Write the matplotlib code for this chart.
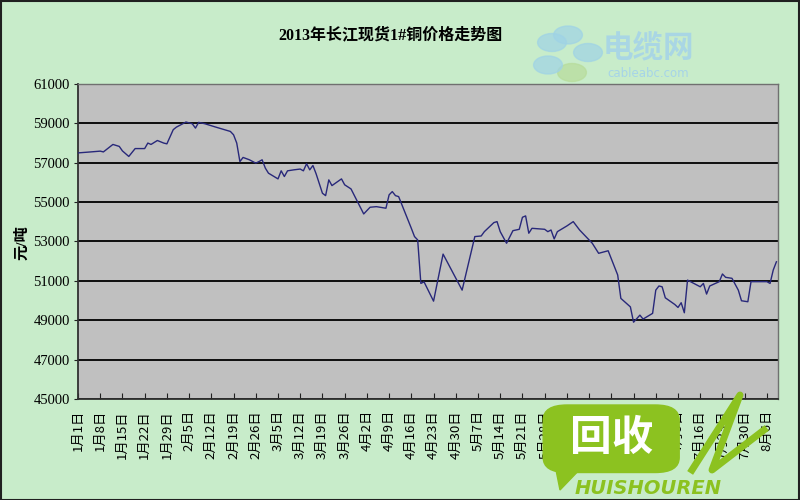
import matplotlib
matplotlib.use("Agg")
import matplotlib.pyplot as plt
from matplotlib.patches import Rectangle, FancyBboxPatch, Circle, Polygon

# day offsets from 1月1日 and price (元/吨)
days = [0, 4, 7, 8, 11, 13, 14, 16, 18, 21, 22, 23, 25, 27, 28, 30, 31, 33, 34, 36,
        37, 38, 40, 43, 48, 49, 50, 51, 52, 54, 56, 57, 58, 59, 60, 63, 64, 65, 66,
        68, 70, 71, 72, 73, 74, 75, 77, 78, 79, 80, 83, 84, 86, 90, 92, 94, 97, 98,
        99, 100, 101, 105, 106, 107, 108, 109, 112, 115, 121, 125, 127, 128, 131, 132,
        133, 135, 137, 139, 140, 141, 142, 143, 147, 148, 149, 150, 151, 154, 156, 158,
        162, 164, 167, 170, 171, 174, 175, 177, 178, 181, 182, 183, 184, 185, 188, 189,
        190, 191, 192, 194, 196, 197, 198, 199, 202, 203, 204, 206, 208, 209, 211, 212,
        214, 217, 218, 219, 220]
price = [57500, 57550, 57590, 57550, 57930, 57830, 57600, 57320, 57720, 57720, 58000,
         57930, 58130, 58000, 57960, 58680, 58810, 58980, 59070, 58980, 58760, 59050,
         58980, 58830, 58590, 58420, 58000, 57060, 57270, 57150, 56980, 57060, 57150,
         56730, 56470, 56180, 56590, 56300, 56590, 56640, 56680, 56590, 56950, 56640,
         56860, 56440, 55450, 55330, 56130, 55840, 56180, 55880, 55670, 54400, 54740,
         54770, 54690, 55370, 55535, 55330, 55280, 53670, 53250, 53080, 50870, 50950,
         49970, 52360, 50530, 53250, 53280, 53500, 53960, 54010, 53500, 52910, 53550,
         53620, 54230, 54300, 53420, 53670, 53620, 53500, 53585, 53130, 53500, 53790,
         54010, 53585, 52910, 52400, 52530, 51300, 50110, 49680, 48900, 49260, 49060,
         49350, 50530, 50740, 50700, 50140, 49800, 49650, 49890, 49380, 51040, 50870,
         50700, 50870, 50330, 50740, 50960, 51350, 51180, 51130, 50530, 49990, 49940,
         50960, 50960, 50960, 50870, 51550, 51970]

tick_labels = ["1月1日", "1月8日", "1月15日", "1月22日", "1月29日", "2月5日", "2月12日",
               "2月19日", "2月26日", "3月5日", "3月12日", "3月19日", "3月26日", "4月2日",
               "4月9日", "4月16日", "4月23日", "4月30日", "5月7日", "5月14日", "5月21日",
               "5月28日", "6月4日", "6月11日", "6月18日", "6月25日", "7月2日", "7月9日",
               "7月16日", "7月23日", "7月30日", "8月6日"]
y_ticks = list(range(45000, 61001, 2000))

bg = "#c8ecca"
serif_cjk = ["Liberation Serif", "Noto Sans CJK SC"]
sans_cjk = ["Noto Sans CJK SC", "DejaVu Sans"]

fig = plt.figure(figsize=(8, 5), dpi=100, facecolor=bg)
ax = fig.add_axes([0.0975, 0.202, 0.875, 0.63])
ax.set_facecolor("#c0c0c0")

ax.plot(days, price, color="#28287a", lw=1.0, zorder=3)

ax.set_xlim(0, 220.5)
ax.set_ylim(45000, 61000)
ax.set_yticks(y_ticks)
ax.set_yticklabels([str(v) for v in y_ticks], family="Liberation Serif", fontsize=10.5)
ax.set_xticks([7 * i for i in range(len(tick_labels))])
ax.set_xticklabels(tick_labels, rotation=90, family=sans_cjk, fontsize=9.5)
ax.tick_params(axis="x", direction="in", length=4, pad=8, color="#202020")
ax.tick_params(axis="y", direction="out", length=3, pad=3, color="#202020")
ax.grid(axis="y", color="black", lw=1.3)
ax.grid(axis="x", visible=False)
for s in ["top", "right"]:
    ax.spines[s].set_color("#707070")
    ax.spines[s].set_linewidth(1.0)
for s in ["left", "bottom"]:
    ax.spines[s].set_color("#303030")
    ax.spines[s].set_linewidth(1.3)

fig.text(0.488, 0.93, "2013年长江现货1#铜价格走势图", ha="center", va="center",
         family=serif_cjk, fontsize=11.5, fontweight="bold")
fig.text(0.028, 0.515, "元/吨", rotation=90, ha="center", va="center",
         family=serif_cjk, fontsize=11, fontweight="bold")

# cableabc watermark
for cx, cy, c in [(0.71, 0.93, "#9fd3e6"), (0.735, 0.895, "#9fd3e6"), (0.715, 0.855, "#b7dc9a"),
                  (0.685, 0.87, "#9fd3e6"), (0.69, 0.915, "#9fd3e6")]:
    fig.patches.append(Circle((cx, cy), 0.018, transform=fig.transFigure, color=c, alpha=0.7, zorder=5))
fig.text(0.81, 0.905, "电缆网", ha="center", va="center", family=sans_cjk,
         fontsize=22, fontweight="bold", color="#a6d4e8", alpha=0.9, zorder=6)
fig.text(0.81, 0.853, "cableabc.com", ha="center", va="center", family="DejaVu Sans",
         fontsize=8.5, color="#a6d4e8", zorder=6)

# huishouren watermark
green = "#8cc220"
fig.patches.append(FancyBboxPatch((0.684, 0.06), 0.16, 0.125, boxstyle="round,pad=0.005,rounding_size=0.03",
                                  transform=fig.transFigure, color=green, zorder=5))
fig.patches.append(Polygon([(0.69, 0.1), (0.73, 0.07), (0.70, 0.02)], closed=True,
                           transform=fig.transFigure, color=green, zorder=5))
fig.text(0.765, 0.125, "回收", ha="center", va="center", family=sans_cjk,
         fontsize=30, fontweight="bold", color="white", zorder=6)
fig.text(0.81, 0.022, "HUISHOUREN", ha="center", va="center", family="DejaVu Sans",
         fontsize=14, fontweight="bold", style="italic", color=green, zorder=6)
fig.lines.append(plt.Line2D([0.865, 0.925, 0.89, 0.955], [0.06, 0.21, 0.06, 0.14],
                            transform=fig.transFigure, color=green, lw=5, zorder=5))

fig.patches.append(Rectangle((0.001, 0.001), 0.998, 0.998, transform=fig.transFigure,
                             fill=False, edgecolor="#202020", lw=1.5, zorder=10))

fig.savefig("out.png", dpi=100, facecolor=bg)
